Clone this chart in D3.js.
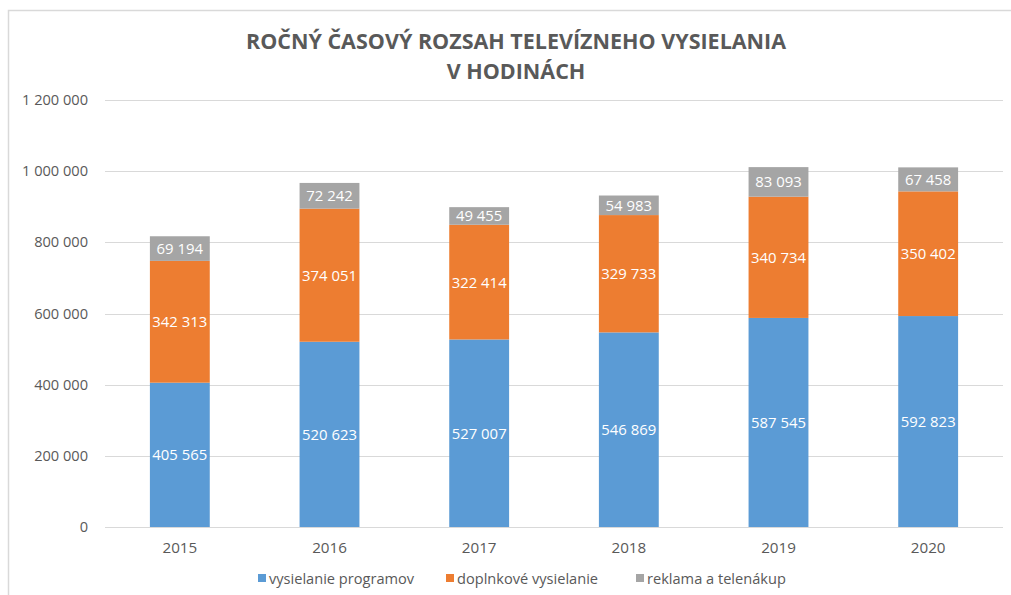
<!DOCTYPE html>
<html>
<head>
<meta charset="utf-8">
<script src="https://cdn.jsdelivr.net/npm/d3@7"></script>
<style>
  body { margin: 0; background: #fff; }
  text { font-family: "Open Sans", "DejaVu Sans", sans-serif; }
</style>
</head>
<body>
<div id="content"></div>
<script>
var years = ['2015', '2016', '2017', '2018', '2019', '2020'];
var programy = [405565, 520623, 527007, 546869, 587545, 592823];
var doplnkove = [342313, 374051, 322414, 329733, 340734, 350402];
var reklama = [69194, 72242, 49455, 54983, 83093, 67458];
var seriesNames = ['vysielanie programov', 'doplnkové vysielanie', 'reklama a telenákup'];
var colors = ['#5b9bd5', '#ed7d31', '#a5a5a5'];
var yTicks = [0, 200000, 400000, 600000, 800000, 1000000, 1200000];

var width = 1011, height = 595;
var svg = d3.select('#content').append('svg').attr('width', width).attr('height', height);

// chart border (only top and left visible)
svg.append('path')
  .attr('d', 'M8.5,' + height + ' V10.5 H' + width)
  .attr('fill', 'none').attr('stroke', '#d9d9d9').attr('stroke-width', 1.5);

var x = d3.scaleBand().domain(years).range([105, 1003]).paddingInner(0.6).paddingOuter(0.3);
var y = d3.scaleLinear().domain([0, 1200000]).range([527, 100]);

var fmt = function(v){ return d3.format(',')(v).replace(/,/g, ' '); };

// gridlines
svg.append('g').selectAll('line').data(yTicks).enter().append('line')
  .attr('x1', 105).attr('x2', 1003)
  .attr('y1', function(d){ return Math.round(y(d)) + 0.5; })
  .attr('y2', function(d){ return Math.round(y(d)) + 0.5; })
  .attr('stroke', '#d9d9d9').attr('stroke-width', 1);

// y labels
svg.append('g').selectAll('text').data(yTicks).enter().append('text')
  .attr('x', 88).attr('y', function(d){ return y(d) + 5; })
  .attr('text-anchor', 'end').attr('font-size', 14.6).attr('fill', '#595959')
  .text(fmt);

// x labels
svg.append('g').selectAll('text').data(years).enter().append('text')
  .attr('x', function(d){ return x(d) + x.bandwidth() / 2; })
  .attr('y', 553).attr('text-anchor', 'middle').attr('font-size', 15.2).attr('fill', '#595959')
  .text(function(d){ return d; });

var rows = years.map(function(yr, i){
  return { year: yr, a: programy[i], b: doplnkove[i], c: reklama[i] };
});
var stack = d3.stack().keys(['a', 'b', 'c'])(rows);

var layers = svg.selectAll('.layer').data(stack).enter().append('g')
  .attr('class', 'layer')
  .attr('fill', function(d, i){ return colors[i]; });

layers.selectAll('rect').data(function(d){ return d; }).enter().append('rect')
  .attr('x', function(d){ return x(d.data.year); })
  .attr('y', function(d){ return y(d[1]); })
  .attr('width', x.bandwidth())
  .attr('height', function(d){ return y(d[0]) - y(d[1]); });

layers.selectAll('text').data(function(d){ return d; }).enter().append('text')
  .attr('x', function(d){ return x(d.data.year) + x.bandwidth() / 2; })
  .attr('y', function(d){ return (y(d[0]) + y(d[1])) / 2 + 5.5; })
  .attr('text-anchor', 'middle').attr('font-size', 14.9).attr('fill', '#fff')
  .text(function(d){ return fmt(d[1] - d[0]); });

// title
var title = svg.append('text').attr('text-anchor', 'middle').attr('font-size', 21.5)
  .attr('font-weight', 'bold').attr('fill', '#595959');
title.append('tspan').attr('x', 516).attr('y', 49).text('ROČNÝ ČASOVÝ ROZSAH TELEVÍZNEHO VYSIELANIA');
title.append('tspan').attr('x', 516).attr('y', 78.5).text('V HODINÁCH');

// legend
var legendX = [258, 446, 636];
var legend = svg.selectAll('.legend').data(seriesNames).enter().append('g')
  .attr('class', 'legend')
  .attr('transform', function(d, i){ return 'translate(' + legendX[i] + ',579)'; });
legend.append('rect').attr('x', 0).attr('y', -5).attr('width', 8).attr('height', 8)
  .attr('fill', function(d, i){ return colors[i]; });
legend.append('text').attr('x', 11).attr('y', 4.5).attr('font-size', 14.6).attr('fill', '#595959')
  .text(function(d){ return d; });
</script>
</body>
</html>
